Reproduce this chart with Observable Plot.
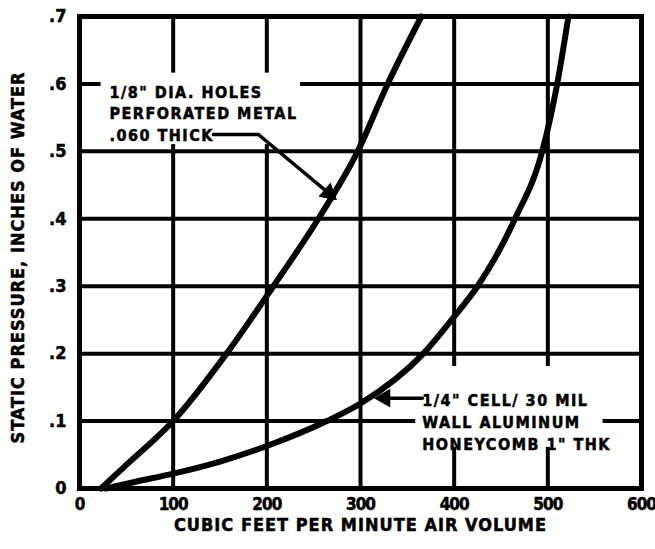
<!DOCTYPE html>
<html>
<head>
<meta charset="utf-8">
<script src="https://cdn.jsdelivr.net/npm/d3@7"></script>
<script src="https://cdn.jsdelivr.net/npm/@observablehq/plot@0.6"></script>
<style>
  html, body { margin: 0; padding: 0; background: #fff; }
  #chart svg { display: block; }
  #chart svg text { font-family: "Liberation Sans Narrow", "DejaVu Sans Condensed", sans-serif; font-weight: bold; stroke: #000; stroke-width: 0.5px; }
  .note text { letter-spacing: 1.5px; }
  .title text { letter-spacing: 1px; }
  .xt text { letter-spacing: -1px; }
</style>
</head>
<body>
<div id="chart"></div>
<script>
// Axis ticks
const xTicks = [0, 100, 200, 300, 400, 500, 600];
const yTicks = [0, 0.1, 0.2, 0.3, 0.4, 0.5, 0.6, 0.7];
const xTitle = "CUBIC FEET PER MINUTE AIR VOLUME";
const yTitle = "STATIC PRESSURE, INCHES OF WATER";

// Curve 1: 1/8" dia. holes perforated metal
const perfCfm = [23, 50, 100, 157, 207, 255, 297, 329, 365];
const perfPressure = [0, 0.035, 0.1, 0.2, 0.3, 0.4, 0.5, 0.6, 0.7];

// Curve 2: 1/4" cell honeycomb
const honeyCfm = [28, 60, 100, 150, 200, 264, 300, 367, 400, 425, 465, 494, 510, 522];
const honeyPressure = [0, 0.01, 0.022, 0.04, 0.063, 0.1, 0.126, 0.2, 0.255, 0.3, 0.4, 0.5, 0.6, 0.7];

// Annotations
const noteText = ["1/8\" DIA. HOLES\nPERFORATED METAL\n.060 THICK", "1/4\" CELL/ 30 MIL\nWALL ALUMINUM\nHONEYCOMB 1\" THK"];
const noteX = [32, 366];
const noteY = [0.558, 0.1];
const boxX1 = [23, 359];
const boxX2 = [236, 559];
const boxY1 = [0.51, 0.061];
const boxY2 = [0.616, 0.181];
const leader1X = [143, 191, 266];
const leader1Y = [0.525, 0.525, 0.438];
const leader2X = [366, 324];
const leader2Y = [0.134, 0.134];
const headX = [266, 326];
const headY = [0.438, 0.134];
const headRotate = [130, -90];

const perf = perfCfm.map((x, i) => ({x, y: perfPressure[i]}));
const honey = honeyCfm.map((x, i) => ({x, y: honeyPressure[i]}));
const boxes = boxX1.map((x1, i) => ({x1, x2: boxX2[i], y1: boxY1[i], y2: boxY2[i]}));
const notes = noteText.map((t, i) => ({t, x: noteX[i], y: noteY[i]}));
const lead1 = leader1X.map((x, i) => ({x, y: leader1Y[i]}));
const lead2 = leader2X.map((x, i) => ({x, y: leader2Y[i]}));
const heads = headX.map((x, i) => ({x, y: headY[i], r: headRotate[i]}));

const fmtY = d => d === 0 ? "0" : d3.format(".1f")(d).replace(/^0/, "");

const chart = Plot.plot({
  width: 655,
  height: 549,
  marginTop: 16,
  marginRight: 14,
  marginBottom: 61,
  marginLeft: 79,
  style: {background: "#fff", color: "#000"},
  x: {domain: [0, 600], axis: null},
  y: {domain: [0, 0.7]},
  marks: [
    Plot.ruleX(xTicks.slice(1, -1), {stroke: "#000", strokeWidth: 4}),
    Plot.ruleY(yTicks.slice(1, -1), {stroke: "#000", strokeWidth: 4}),
    Plot.rect(boxes, {x1: "x1", x2: "x2", y1: "y1", y2: "y2", fill: "#fff"}),
    Plot.line(perf, {x: "x", y: "y", curve: "monotone-x", stroke: "#000", strokeWidth: 6}),
    Plot.line(honey, {x: "x", y: "y", curve: "monotone-x", stroke: "#000", strokeWidth: 6}),
    Plot.frame({stroke: "#000", strokeWidth: 5}),
    Plot.text(notes, {x: "x", y: "y", text: "t", textAnchor: "start", lineAnchor: "middle", fontSize: 16, lineHeight: 1.35, fill: "#000", className: "note"}),
    Plot.line(lead1, {x: "x", y: "y", stroke: "#000", strokeWidth: 3.5}),
    Plot.line(lead2, {x: "x", y: "y", stroke: "#000", strokeWidth: 3.5}),
    Plot.dot(heads, {x: "x", y: "y", symbol: "triangle", rotate: "r", r: 6, fill: "#000", stroke: "#000"}),
    Plot.text(xTicks, {x: d => d, frameAnchor: "bottom", lineAnchor: "top", dy: 9, text: d => String(d), fontSize: 17, fill: "#000", className: "xt"}),
    Plot.axisY({ticks: yTicks, tickSize: 0, tickPadding: 13, fontSize: 18, tickFormat: fmtY, label: null}),
    Plot.text([xTitle], {frameAnchor: "bottom", dy: 42, text: d => d, fontSize: 18, fill: "#000", className: "title"}),
    Plot.text([yTitle], {frameAnchor: "left", textAnchor: "middle", dx: -61, dy: 5, rotate: -90, text: d => d, fontSize: 18, fill: "#000", className: "title"})
  ]
});
document.getElementById("chart").appendChild(chart);
</script>
</body>
</html>
